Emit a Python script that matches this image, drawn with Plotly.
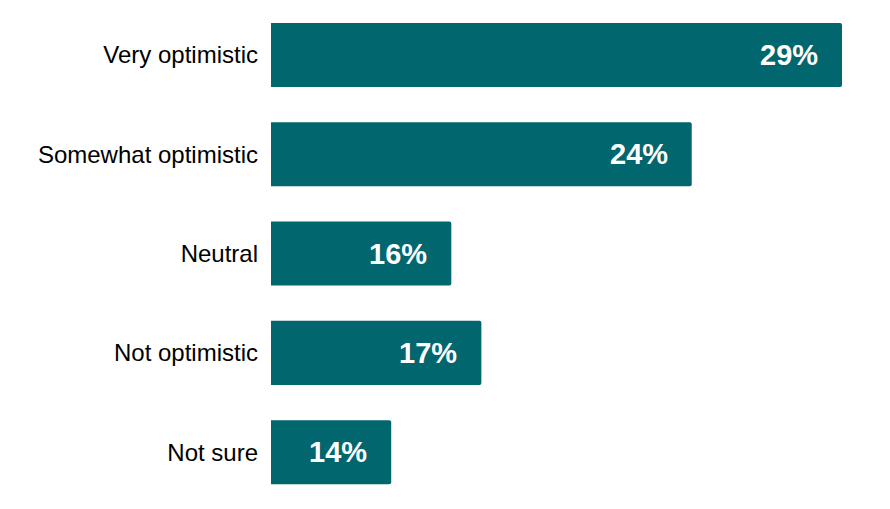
import plotly.graph_objects as go

categories = ["Very optimistic", "Somewhat optimistic", "Neutral", "Not optimistic", "Not sure"]
values = [29, 24, 16, 17, 14]
value_labels = ["29%", "24%", "16%", "17%", "14%"]

BAR_COLOR = "#02666E"
FONT = "Liberation Sans, Arial, Helvetica, sans-serif"

fig = go.Figure(
    go.Bar(
        x=values,
        y=categories,
        orientation="h",
        marker=dict(color=BAR_COLOR, line=dict(width=0), cornerradius=2),
        hoverinfo="skip",
    )
)

for cat, val, lab in zip(categories, values, value_labels):
    fig.add_annotation(
        x=val, y=cat, text="<b>%s</b>" % lab,
        xanchor="right", yanchor="middle", xshift=-22, showarrow=False,
        font=dict(family=FONT, size=29, color="white"),
    )

# the page has an 8px body margin, so the figure is a bit smaller than the window
fig.update_layout(
    width=882, height=501,
    margin=dict(l=263, r=48, t=0, b=0, autoexpand=False),
    paper_bgcolor="white", plot_bgcolor="white",
    bargap=0.355,
    showlegend=False,
    font=dict(family=FONT, size=24, color="black"),
)
fig.update_xaxes(range=[10, 29], visible=False, fixedrange=True)
fig.update_yaxes(
    range=[4.572, -0.473], showgrid=False, showline=False, zeroline=False,
    ticks="", ticklabelstandoff=12, automargin=False, fixedrange=True,
    tickfont=dict(family=FONT, size=24, color="black"),
)

fig.write_html("out.html")
